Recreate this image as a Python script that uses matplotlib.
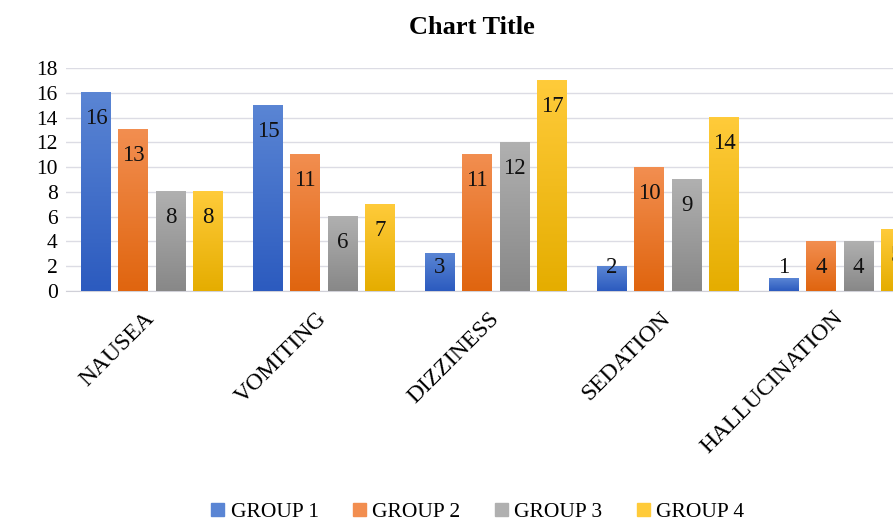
import matplotlib
matplotlib.use('Agg')
import matplotlib.pyplot as plt
import numpy as np
from matplotlib.colors import LinearSegmentedColormap

plt.rcParams['font.family'] = ['Liberation Serif', 'DejaVu Serif']

categories = ['NAUSEA', 'VOMITING', 'DIZZINESS', 'SEDATION', 'HALLUCINATION']
groups = ['GROUP 1', 'GROUP 2', 'GROUP 3', 'GROUP 4']
group1 = [16, 15, 3, 2, 1]
group2 = [13, 11, 11, 10, 4]
group3 = [8, 6, 12, 9, 4]
group4 = [8, 7, 17, 14, 5]
values = [group1, group2, group3, group4]

# top colour, bottom colour of the gradient fill
colors = [('#5A85D4', '#2C5BBF'),
          ('#F28E50', '#E0650F'),
          ('#B0B0B0', '#888888'),
          ('#FFCB3A', '#E5AD00')]

fig = plt.figure(figsize=(8.93, 5.23), dpi=100)
ax = fig.add_axes([0.0739, 0.4436, 0.963, 0.4264])

x = np.arange(len(categories))
width = 0.174
step = 0.217
for i, vals in enumerate(values):
    top, bot = colors[i]
    cmap = LinearSegmentedColormap.from_list('g%d' % i, [bot, top])
    pos = x + (i - 1.5) * step
    bars = ax.bar(pos, vals, width, color=top, label=groups[i], zorder=2)
    for b, v in zip(bars, vals):
        x0 = b.get_x()
        grad = np.linspace(0, 1, 100).reshape(-1, 1)
        ax.imshow(grad, cmap=cmap, origin='lower', aspect='auto',
                  extent=[x0, x0 + width, 0, v], zorder=3)
        ax.text(b.get_x() + width / 2, max(v - 2.1, 1.9), str(v),
                ha='center', va='center', fontsize=16.5, color='#111111', zorder=4)

ax.set_xlim(-0.5, len(categories) - 0.5)
ax.set_ylim(0, 18)
ax.set_yticks(range(0, 19, 2))
# labels sit a little left of the group centre, like the original
ax.set_xticks(x - 0.045)
ax.set_xticklabels(categories, rotation=45, ha='right', rotation_mode='anchor',
                   fontsize=17)
ax.tick_params(axis='y', labelsize=15.5, length=0, pad=6)
ax.tick_params(axis='x', length=0, pad=12)
ax.grid(axis='y', color='#DCDCE4', linewidth=1, zorder=0)
ax.set_axisbelow(True)
for s in ['top', 'right', 'left']:
    ax.spines[s].set_visible(False)
ax.spines['bottom'].set_color('#D0D0D8')

fig.text(0.528, 0.948, 'Chart Title', ha='center', va='center',
         fontsize=19, fontweight='bold')

handles = [plt.Rectangle((0, 0), 1, 1, color=c[0]) for c in colors]
fig.legend(handles, groups, loc='center', bbox_to_anchor=(0.535, 0.02),
           ncol=4, frameon=False, fontsize=15.5, handlelength=0.6,
           handleheight=0.6, handletextpad=0.3, columnspacing=1.6)

fig.savefig('out.png', dpi=100)
